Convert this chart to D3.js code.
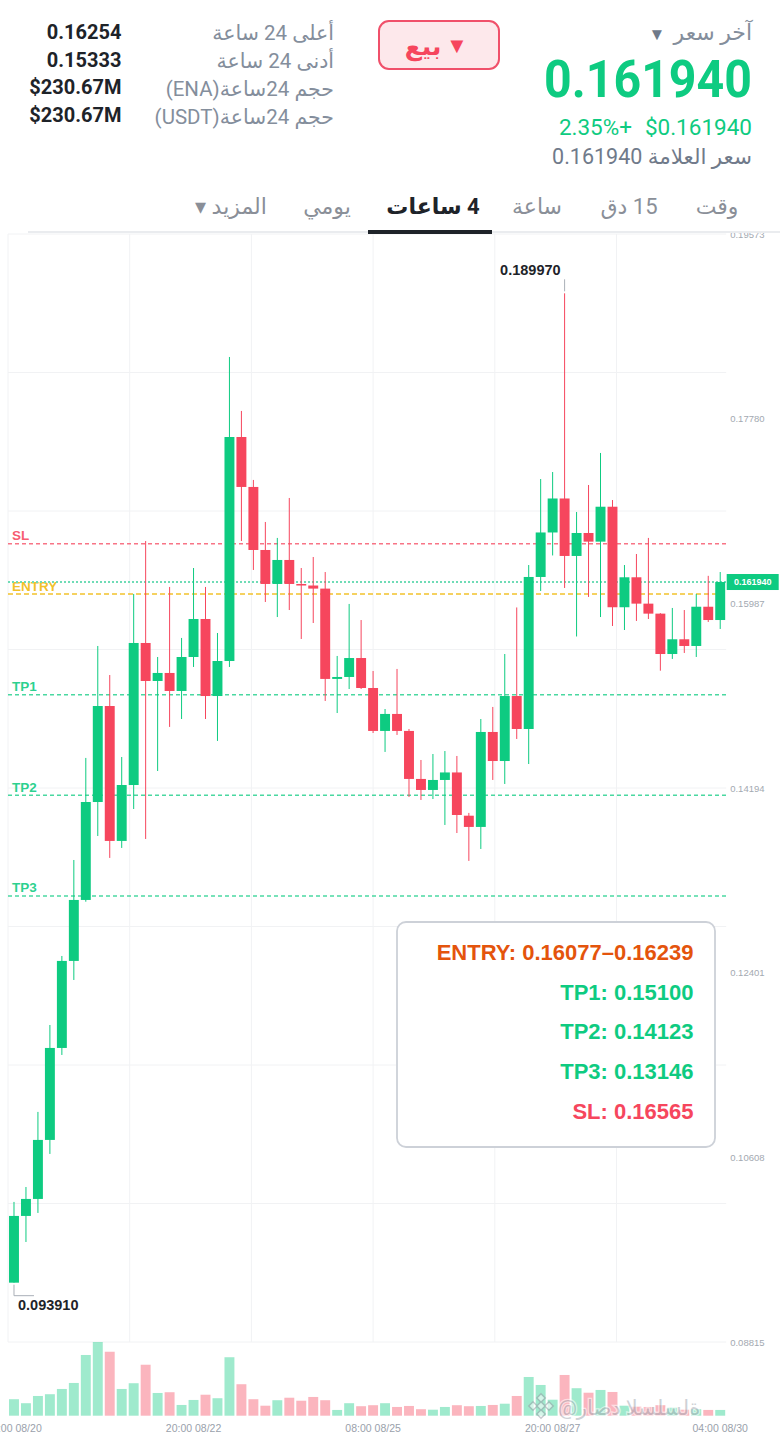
<!DOCTYPE html>
<html>
<head>
<meta charset="utf-8">
<script src="https://cdn.jsdelivr.net/npm/d3@7"></script>
<style>
  body { margin: 0; background: #fff; }
  svg { display: block; font-family: Roboto, "Liberation Sans", "DejaVu Sans", sans-serif; }
</style>
</head>
<body>
<div id="chart-wrapper"></div>
<script>
const width = 780, height = 1434
const green = "#0ecb81", red = "#f6465d"

// ENA/USDT 4h candles, first one opens 08/20 08:00
let open = [
  0.09391, 0.10039, 0.10204, 0.10777, 0.11670, 0.12515, 0.13107, 0.14058, 0.14990, 0.13680,
  0.14223, 0.15602, 0.15233, 0.15311, 0.15136, 0.15466, 0.15835, 0.15087, 0.15427, 0.17602,
  0.17117, 0.16505, 0.16175, 0.16408, 0.16175, 0.16160, 0.16130, 0.15253, 0.15272, 0.15456,
  0.15165, 0.14748, 0.14913, 0.14748, 0.14282, 0.14175, 0.14272, 0.14345, 0.13925, 0.13816,
  0.14738, 0.14456, 0.15087, 0.14767, 0.16243, 0.16675, 0.17005, 0.16447, 0.16670, 0.16586,
  0.16925, 0.15949, 0.16240, 0.15984, 0.15887, 0.15495, 0.15638, 0.15573, 0.15954, 0.15825
]
let high = [
  0.10175, 0.10320, 0.11049, 0.11893, 0.12563, 0.13495, 0.14486, 0.15573, 0.15291, 0.14495,
  0.16078, 0.16592, 0.15466, 0.16146, 0.15651, 0.16330, 0.16146, 0.15699, 0.18379, 0.17855,
  0.17185, 0.16777, 0.16622, 0.17010, 0.16330, 0.16437, 0.16291, 0.15476, 0.15981, 0.15825,
  0.15330, 0.14961, 0.15350, 0.14767, 0.14466, 0.14524, 0.14553, 0.14505, 0.13952, 0.14864,
  0.14981, 0.15495, 0.15947, 0.16359, 0.17194, 0.17262, 0.18997, 0.16874, 0.17136, 0.17447,
  0.16990, 0.16359, 0.16466, 0.16622, 0.15892, 0.15942, 0.15922, 0.16078, 0.16254, 0.16291
]
let low = [
  0.09391, 0.09786, 0.10068, 0.10641, 0.11602, 0.12330, 0.13090, 0.13728, 0.13515, 0.13612,
  0.13990, 0.13699, 0.14359, 0.14787, 0.14864, 0.15369, 0.14864, 0.14651, 0.15369, 0.16592,
  0.16311, 0.16000, 0.15854, 0.15922, 0.15641, 0.15796, 0.15039, 0.14922, 0.15155, 0.15155,
  0.14728, 0.14544, 0.14709, 0.14107, 0.14078, 0.14087, 0.13835, 0.13757, 0.13486, 0.13602,
  0.14272, 0.14233, 0.14670, 0.14427, 0.16107, 0.16452, 0.16136, 0.15665, 0.16049, 0.15854,
  0.15767, 0.15728, 0.15816, 0.15835, 0.15333, 0.15447, 0.15505, 0.15466, 0.15806, 0.15738
]
let close = [
  0.10039, 0.10204, 0.10777, 0.11670, 0.12515, 0.13107, 0.14058, 0.14990, 0.13680, 0.14223,
  0.15602, 0.15233, 0.15311, 0.15136, 0.15466, 0.15835, 0.15087, 0.15427, 0.17602, 0.17117,
  0.16505, 0.16175, 0.16408, 0.16175, 0.16160, 0.16130, 0.15253, 0.15272, 0.15456, 0.15165,
  0.14748, 0.14913, 0.14748, 0.14282, 0.14175, 0.14272, 0.14345, 0.13932, 0.13816, 0.14738,
  0.14456, 0.15087, 0.14767, 0.16243, 0.16675, 0.17005, 0.16447, 0.16670, 0.16586, 0.16925,
  0.15949, 0.16240, 0.15984, 0.15887, 0.15495, 0.15638, 0.15573, 0.15954, 0.15825, 0.16194
]
// volume, millions of ENA
let volume = [
  66, 50, 79, 86, 107, 131, 243, 295, 256, 107,
  130, 204, 91, 94, 43, 63, 84, 70, 234, 126,
  66, 40, 62, 72, 60, 75, 62, 23, 50, 38,
  42, 50, 35, 39, 26, 24, 35, 42, 38, 39,
  43, 48, 79, 155, 123, 64, 163, 110, 92, 103,
  95, 40, 36, 35, 42, 32, 24, 26, 23, 23
]
let priceTicks = [0.19573, 0.17780, 0.15987, 0.14194, 0.12401, 0.10608, 0.08815]
let timeTicks = ["08:00 08/20", "20:00 08/22", "08:00 08/25", "20:00 08/27", "04:00 08/30"]
let levelNames = ["SL", "ENTRY", "TP1", "TP2", "TP3"]
let levelValues = [0.16565, 0.16077, 0.15100, 0.14123, 0.13146]
let levelColors = [red, "#f0b90b", green, green, green]
let entryTop = 0.16239
let lastPrice = 0.161940
let changePct = 2.35
let statLabels = ["أعلى 24 ساعة", "أدنى 24 ساعة", "حجم 24ساعة(ENA)", "حجم 24ساعة(USDT)"]
let statValues = ["0.16254", "0.15333", "$230.67M", "$230.67M"]
let tabs = ["وقت", "15 دق", "ساعة", "4 ساعات", "يومي", "المزيد ▾"]

let parseTime = d3.timeParse("%Y-%m-%d %H:%M")
let fmtTime = d3.timeFormat("%H:%M %m/%d")
let start = parseTime("2024-08-20 08:00")
let times = open.map((d, i) => fmtTime(d3.timeHour.offset(start, 4 * i)))

let plot = {left: 8, right: 726.2, top: 234, bottom: 1342, volBottom: 1415.7}

let svg = d3.select("#chart-wrapper")
  .append("svg")
  .attr("width", width)
  .attr("height", height)

let x = d3.scaleBand()
  .domain(times)
  .range([plot.left, plot.right])
  .paddingInner(0.17)
  .paddingOuter(0.085)
let bw = x.bandwidth()
let cx = t => x(t) + bw / 2
let y = d3.scaleLinear()
  .domain([priceTicks[priceTicks.length - 1], priceTicks[0]])
  .range([plot.bottom, plot.top])
let yv = d3.scaleLinear()
  .domain([0, d3.max(volume)])
  .range([plot.volBottom, plot.bottom])

// Grid
let [d0, d1] = y.domain()
let gridValues = d3.range(9).map(k => d0 + k * (d1 - d0) / 8)
let grid = svg.append("g").attr("stroke", "#f1f2f4").attr("stroke-width", 1)
grid.selectAll(".h").data(gridValues).enter().append("line")
  .attr("x1", plot.left).attr("x2", plot.right)
  .attr("y1", d => y(d)).attr("y2", d => y(d))
grid.selectAll(".v").data(d3.range(6)).enter().append("line")
  .attr("x1", k => plot.left + k * 121.7).attr("x2", k => plot.left + k * 121.7)
  .attr("y1", plot.top).attr("y2", plot.bottom)

// Level lines
let levels = levelNames.map((n, i) => ({name: n, value: levelValues[i], color: levelColors[i]}))
let lv = svg.append("g")
lv.selectAll("line").data(levels).enter().append("line")
  .attr("x1", plot.left).attr("x2", plot.right)
  .attr("y1", d => y(d.value)).attr("y2", d => y(d.value))
  .attr("stroke", d => d.color)
  .attr("stroke-opacity", d => d.name == "ENTRY" ? 0.65 : 0.75)
  .attr("stroke-width", d => d.name == "ENTRY" ? 2 : 1.4)
  .attr("stroke-dasharray", d => d.name == "ENTRY" ? "5,3" : "4,3")
lv.selectAll("text").data(levels).enter().append("text")
  .attr("x", 12)
  .attr("y", d => y(d.value) - 3.5)
  .attr("fill", d => d.color)
  .attr("fill-opacity", 0.9)
  .attr("font-family", "Liberation Sans, Arial, sans-serif")
  .attr("font-weight", "bold")
  .attr("font-size", 13.5)
  .text(d => d.name)
// last price dotted line
svg.append("line")
  .attr("x1", plot.left).attr("x2", plot.right)
  .attr("y1", y(lastPrice)).attr("y2", y(lastPrice))
  .attr("stroke", "#6fdcb6")
  .attr("stroke-width", 2)
  .attr("stroke-dasharray", "2,2")

// Candles
let candles = times.map((t, i) => ({t: t, o: open[i], h: high[i], l: low[i], c: close[i], v: volume[i]}))
let cg = svg.append("g")
cg.selectAll("line").data(candles).enter().append("line")
  .attr("x1", d => cx(d.t)).attr("x2", d => cx(d.t))
  .attr("y1", d => y(d.h)).attr("y2", d => y(d.l))
  .attr("stroke", d => d.c >= d.o ? green : red)
  .attr("stroke-width", 1)
cg.selectAll("rect").data(candles).enter().append("rect")
  .attr("x", d => x(d.t))
  .attr("width", bw)
  .attr("y", d => y(Math.max(d.o, d.c)))
  .attr("height", d => Math.max(1.5, Math.abs(y(d.o) - y(d.c))))
  .attr("fill", d => d.c >= d.o ? green : red)

// Volume
svg.append("g").selectAll("rect").data(candles).enter().append("rect")
  .attr("x", d => x(d.t))
  .attr("width", bw)
  .attr("y", d => yv(d.v))
  .attr("height", d => plot.volBottom - yv(d.v))
  .attr("fill", d => d.c >= d.o ? green : red)
  .attr("fill-opacity", 0.4)

// High / low markers
let hiIdx = d3.maxIndex(high), loIdx = d3.minIndex(low)
let marks = svg.append("g").attr("font-family", "Liberation Sans, Arial, sans-serif")
  .attr("font-weight", "bold").attr("font-size", 14.5).attr("fill", "#1e2329")
marks.append("line")
  .attr("x1", cx(times[hiIdx])).attr("x2", cx(times[hiIdx]))
  .attr("y1", y(high[hiIdx]) - 14).attr("y2", y(high[hiIdx]) - 2)
  .attr("stroke", "#aab0b8")
marks.append("text")
  .attr("x", cx(times[hiIdx]) - 4).attr("y", y(high[hiIdx]) - 18)
  .attr("text-anchor", "end")
  .text(d3.format(".6f")(high[hiIdx]))
marks.append("path")
  .attr("d", `M${cx(times[loIdx])},${y(low[loIdx]) + 2}V${y(low[loIdx]) + 13}H${cx(times[loIdx]) + 20}`)
  .attr("fill", "none")
  .attr("stroke", "#aab0b8")
marks.append("text")
  .attr("x", cx(times[loIdx]) + 4).attr("y", y(low[loIdx]) + 27)
  .text(d3.format(".6f")(low[loIdx]))

// Axes
let yAxis = svg.append("g")
  .attr("class", "yAxis")
  .attr("transform", `translate(${plot.right},0)`)
  .call(d3.axisRight(y).tickValues(priceTicks).tickSize(0).tickPadding(4).tickFormat(d3.format(".5f")))
yAxis.select(".domain").remove()
yAxis.selectAll("text").attr("fill", "#a3a9b1").attr("font-size", 9.5)
  .attr("font-family", "Liberation Sans, Arial, sans-serif")

let xAxis = svg.append("g")
  .attr("class", "xAxis")
  .attr("transform", `translate(0,${plot.volBottom})`)
  .call(d3.axisBottom(x).tickValues(timeTicks).tickSize(0).tickPadding(8.5))
xAxis.select(".domain").remove()
xAxis.selectAll("text").attr("fill", "#9aa1ab").attr("font-size", 10.5)
  .attr("font-family", "Liberation Sans, Arial, sans-serif")

// Last price tag
svg.append("rect")
  .attr("x", plot.right + 0.5).attr("y", y(lastPrice) - 8)
  .attr("width", 52).attr("height", 16)
  .attr("fill", green)
svg.append("text")
  .attr("x", plot.right + 26.5).attr("y", y(lastPrice) + 3.2)
  .attr("text-anchor", "middle")
  .attr("fill", "#fff").attr("font-weight", "bold").attr("font-size", 9)
  .attr("font-family", "Liberation Sans, Arial, sans-serif")
  .text(d3.format(".6f")(lastPrice))

// Levels box
let f5 = d3.format(".5f")
let boxLines = [
  {t: `ENTRY: ${f5(levelValues[1])}–${f5(entryTop)}`, c: "#e4540c"},
  {t: `TP1: ${f5(levelValues[2])}`, c: green},
  {t: `TP2: ${f5(levelValues[3])}`, c: green},
  {t: `TP3: ${f5(levelValues[4])}`, c: green},
  {t: `SL: ${f5(levelValues[0])}`, c: red}
]
let box = svg.append("g").attr("transform", "translate(397,922)")
box.append("rect")
  .attr("width", 318).attr("height", 225).attr("rx", 9)
  .attr("fill", "#fff").attr("stroke", "#cdd1d8").attr("stroke-width", 1.8)
box.selectAll("text").data(boxLines).enter().append("text")
  .attr("x", 296.5)
  .attr("y", (d, i) => 38 + i * 39.7)
  .attr("text-anchor", "end")
  .attr("fill", d => d.c)
  .attr("font-family", "Liberation Sans, Arial, sans-serif")
  .attr("font-weight", "bold")
  .attr("font-size", 22)
  .text(d => d.t)

// Watermark
let wm = svg.append("g").attr("opacity", 0.55)
wm.selectAll("rect").data([[0, -8], [-8, 0], [8, 0], [0, 8], [0, 0]]).enter().append("rect")
  .attr("x", -3).attr("y", -3).attr("width", 6).attr("height", 6)
  .attr("transform", d => `translate(${541 + d[0]},${1406 + d[1]}) rotate(45)`)
  .attr("fill", "#fff").attr("stroke", "#9aa0a8").attr("stroke-width", 1.5)
wm.append("text")
  .attr("x", 558).attr("y", 1415)
  .attr("fill", "#a7adb5").attr("stroke", "#fff").attr("stroke-width", 2.5)
  .attr("paint-order", "stroke")
  .attr("font-size", 21)
  .attr("letter-spacing", 2)
  .style("unicode-bidi", "bidi-override").attr("direction", "ltr")
  .text("@راصد السلسلة")

// Header
svg.append("rect").attr("width", width).attr("height", 232).attr("fill", "#fff")
let head = svg.append("g")
head.selectAll(".sl").data(statLabels).enter().append("text")
  .attr("x", 334).attr("y", (d, i) => 40 + i * 28)
  .attr("direction", "rtl").attr("text-anchor", "start")
  .attr("fill", "#848e9c").attr("font-size", 20.5)
  .text(d => d)
head.selectAll(".sv").data(statValues).enter().append("text")
  .attr("x", 121.5).attr("y", (d, i) => 39 + i * 27.7)
  .attr("text-anchor", "end")
  .attr("fill", "#1e2329").attr("font-weight", "bold").attr("font-size", 20)
  .text(d => d)

head.append("rect")
  .attr("x", 379).attr("y", 21).attr("width", 120).attr("height", 48).attr("rx", 10)
  .attr("fill", "#fde8eb").attr("stroke", "#f0506a").attr("stroke-width", 2)
head.append("text").attr("x", 423).attr("y", 55).attr("text-anchor", "middle")
  .attr("fill", red).attr("font-weight", "bold").attr("font-size", 25).text("بيع")
head.append("text").attr("x", 457).attr("y", 53).attr("text-anchor", "middle")
  .attr("fill", red).attr("font-size", 22).text("▼")

head.append("text").attr("x", 752).attr("y", 40)
  .attr("direction", "rtl").attr("text-anchor", "start")
  .attr("fill", "#848e9c").attr("font-size", 22).text("آخر سعر")
head.append("text").attr("x", 657).attr("y", 40).attr("text-anchor", "middle")
  .attr("fill", "#707a8a").attr("font-size", 17).text("▼")
head.append("text").attr("x", 752).attr("y", 97).attr("text-anchor", "end")
  .attr("fill", green).attr("font-weight", "bold").attr("font-size", 52)
  .attr("textLength", 208).attr("lengthAdjust", "spacingAndGlyphs")
  .text(d3.format(".6f")(lastPrice))
head.append("text").attr("x", 752).attr("y", 135).attr("text-anchor", "end")
  .attr("fill", green).attr("font-size", 22.5).text("$" + d3.format(".6f")(lastPrice))
head.append("text").attr("x", 632).attr("y", 135).attr("text-anchor", "end")
  .attr("fill", green).attr("font-size", 22.5).text(changePct.toFixed(2) + "%+")
head.append("text").attr("x", 752).attr("y", 164)
  .attr("direction", "rtl").attr("text-anchor", "start")
  .attr("fill", "#707a8a").attr("font-size", 21.5)
  .text("سعر العلامة " + d3.format(".6f")(lastPrice))

// Tabs
let tabX = [717, 629, 537, 433, 327, 231]
head.selectAll(".tab").data(tabs).enter().append("text")
  .attr("x", (d, i) => tabX[i]).attr("y", 214)
  .attr("direction", "rtl")
  .attr("text-anchor", "middle")
  .attr("fill", (d, i) => i == 3 ? "#1e2329" : "#8a8f98")
  .attr("font-weight", (d, i) => i == 3 ? "bold" : "normal")
  .attr("font-size", 22)
  .text(d => d)
head.append("line").attr("x1", 28).attr("x2", width).attr("y1", 232).attr("y2", 232)
  .attr("stroke", "#eaecef").attr("stroke-width", 2)
head.append("line").attr("x1", 368).attr("x2", 492).attr("y1", 232).attr("y2", 232)
  .attr("stroke", "#1e2329").attr("stroke-width", 4)
</script>
</body>
</html>
